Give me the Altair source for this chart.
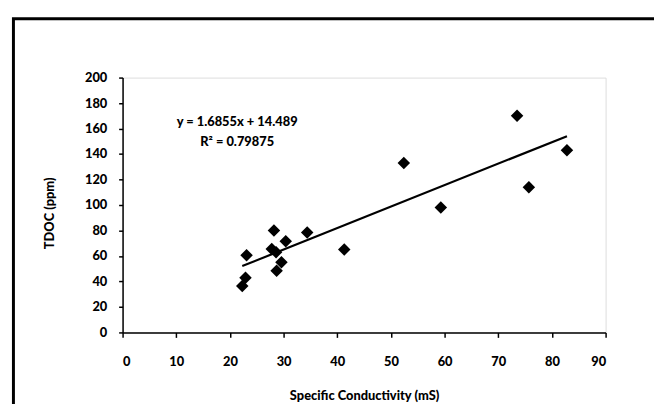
import altair as alt
import pandas as pd

# Data
conductivity = [73.5, 82.8, 52.4, 75.7, 59.3, 28.2, 34.4, 30.4, 41.3, 23.1,
                27.8, 28.6, 29.6, 28.7, 22.9, 22.3]
tdoc = [170, 143, 133, 114, 98, 80, 78.5, 71.5, 65, 60.5,
        65.5, 63, 55, 48.5, 43, 36.5]

slope = 1.6855
intercept = 14.489
equation_text = "y = 1.6855x + 14.489"
r2_text = "R\u00b2 = 0.79875"

x_ticks = list(range(0, 91, 10))
y_ticks = list(range(0, 201, 20))

FONT = "Lato"
WEIGHT = 900

pts = pd.DataFrame({"x": conductivity, "y": tdoc})
xmin, xmax = min(conductivity), max(conductivity)
trend = pd.DataFrame({"x": [xmin, xmax],
                      "y": [slope * xmin + intercept, slope * xmax + intercept]})
one = pd.DataFrame({"k": [0]})

xscale = alt.Scale(domain=[0, 90], nice=False, zero=True)
yscale = alt.Scale(domain=[0, 200], nice=False, zero=True)

xaxis = alt.Axis(values=x_ticks, grid=False, domainColor="black", domainWidth=1.5,
                 tickColor="black", tickWidth=1.5, tickSize=5, labelPadding=18,
                 labelFont=FONT, labelFontWeight=WEIGHT, labelFontSize=13,
                 labelColor="black", labelOverlap=False,
                 title="Specific Conductivity (mS)",
                 titleFont=FONT, titleFontWeight=WEIGHT, titleFontSize=13,
                 titleColor="black", titlePadding=22)
yaxis = alt.Axis(values=y_ticks, grid=False, domainColor="black", domainWidth=1.5,
                 tickColor="black", tickWidth=1.5, tickSize=4, labelPadding=12,
                 labelFont=FONT, labelFontWeight=WEIGHT, labelFontSize=13,
                 labelColor="black", labelOverlap=False, title="TDOC (ppm)",
                 titleFont=FONT, titleFontWeight=WEIGHT, titleFontSize=13,
                 titleColor="black", titleAngle=270, titleX=-74, titleY=137,
                 titleAlign="center", titleBaseline="middle")

points = alt.Chart(pts).mark_point(shape="diamond", filled=True, color="black",
                                   size=160, opacity=1).encode(
    x=alt.X("x:Q", scale=xscale, axis=xaxis),
    y=alt.Y("y:Q", scale=yscale, axis=yaxis),
)

line = alt.Chart(trend).mark_line(color="black", strokeWidth=2.2).encode(
    x=alt.X("x:Q", scale=xscale, axis=xaxis),
    y=alt.Y("y:Q", scale=yscale, axis=yaxis),
)

eq = alt.Chart(one).mark_text(font=FONT, fontWeight=WEIGHT, fontSize=13,
                              color="black", align="center", baseline="middle").encode(
    x=alt.value(116), y=alt.value(45), text=alt.value(equation_text))
r2 = alt.Chart(one).mark_text(font=FONT, fontWeight=WEIGHT, fontSize=13,
                              color="black", align="center", baseline="middle").encode(
    x=alt.value(116), y=alt.value(65), text=alt.value(r2_text))

frame = alt.Chart(one).mark_rect(fillOpacity=0, stroke="black", strokeWidth=3).encode(
    x=alt.value(-110.5), x2=alt.value(600), y=alt.value(-59.5), y2=alt.value(380))

chart = alt.layer(frame, points, line, eq, r2).properties(
    width=489, height=258,
    autosize=alt.AutoSizeParams(type="none"),
    padding={"left": 116, "top": 68, "right": 49, "bottom": 70},
).configure_view(stroke=None).configure_axis(
    labelOverlap=False
).configure(background="white")

chart.save("out.html", embed_options={"renderer": "svg", "actions": False})
